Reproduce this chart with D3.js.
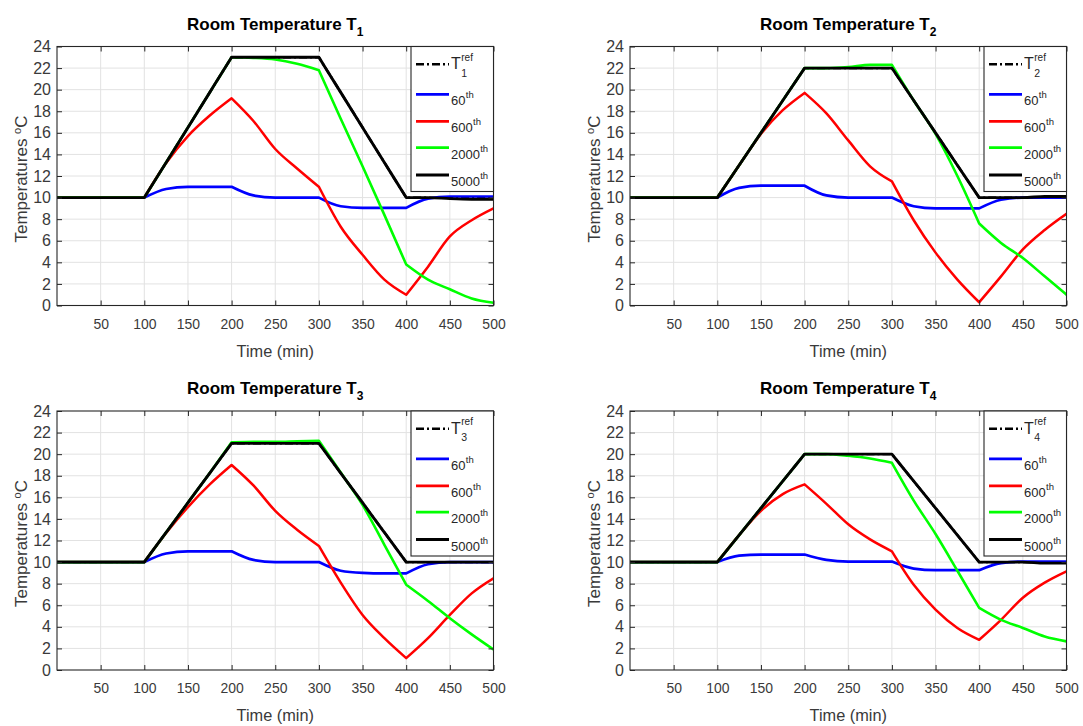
<!DOCTYPE html>
<html>
<head>
<meta charset="utf-8">
<script src="https://cdn.jsdelivr.net/npm/d3@7"></script>
<style>
  body { margin: 0; background: #ffffff; }
  svg text { font-family: "Liberation Sans", Arial, Helvetica, sans-serif; }
</style>
</head>
<body>
<svg id="chart" width="1083" height="726"></svg>
<script>
// ---- data -------------------------------------------------------------
const time = [0, 100, 125, 150, 175, 200, 225, 250, 275, 300, 325, 350, 375, 400, 425, 450, 475, 500];
// instants where the set-point profile changes slope
const breakTimes = [100, 200, 300, 400];

const xTickValues = [50, 100, 150, 200, 250, 300, 350, 400, 450, 500];
const yTickValues = [0, 2, 4, 6, 8, 10, 12, 14, 16, 18, 20, 22, 24];

const runLabels = ["60", "600", "2000", "5000"];
const roomIds = ["1", "2", "3", "4"];

// Room 1
const room1Ref     = [10, 10, 13.25, 16.5, 19.75, 23, 23, 23, 23, 23, 19.75, 16.5, 13.25, 10, 10, 10, 10, 10];
const room1Run60   = [10, 10, 10.8, 11, 11, 11, 10.2, 10, 10, 10, 9.2, 9.05, 9.05, 9.05, 9.9, 10.1, 10.1, 10.1];
const room1Run600  = [10, 10, 13.2, 15.7, 17.6, 19.2, 17.1, 14.5, 12.7, 11.0, 7.3, 4.7, 2.4, 1.0, 3.6, 6.4, 7.9, 9.0];
const room1Run2000 = [10, 10, 13.25, 16.5, 19.75, 23, 22.95, 22.8, 22.4, 21.8, 17.3, 12.9, 8.4, 3.8, 2.4, 1.5, 0.65, 0.25];
const room1Run5000 = [10, 10, 13.25, 16.5, 19.75, 23, 23, 23, 23, 23, 19.75, 16.5, 13.25, 10, 10, 9.9, 9.85, 9.85];

// Room 2
const room2Ref     = [10, 10, 13, 16, 19, 22, 22, 22, 22, 22, 19, 16, 13, 10, 10, 10, 10, 10];
const room2Run60   = [10, 10, 10.9, 11.1, 11.1, 11.1, 10.2, 10, 10, 10, 9.2, 9, 9, 9, 9.8, 10, 10, 10];
const room2Run600  = [10, 10, 13, 15.9, 18.1, 19.7, 17.8, 15.3, 12.9, 11.5, 7.9, 4.9, 2.4, 0.3, 2.7, 5.2, 7.0, 8.5];
const room2Run2000 = [10, 10, 13, 16, 19, 22, 22, 22.1, 22.3, 22.3, 19, 15.9, 12, 7.6, 5.8, 4.4, 2.7, 1.0];
const room2Run5000 = [10, 10, 13, 16, 19, 22, 22, 22, 22, 22, 19, 16, 13, 10, 10, 10, 10.1, 10.1];

// Room 3
const room3Ref     = [10, 10, 12.75, 15.5, 18.25, 21, 21, 21, 21, 21, 18.25, 15.5, 12.75, 10, 10, 10, 10, 10];
const room3Run60   = [10, 10, 10.8, 11, 11, 11, 10.2, 10, 10, 10, 9.2, 9, 8.95, 8.95, 9.8, 10, 10, 10];
const room3Run600  = [10, 10, 12.7, 15.1, 17.2, 19.0, 17.1, 14.75, 13.0, 11.5, 8.1, 5.1, 2.95, 1.1, 2.95, 5.1, 7.1, 8.5];
const room3Run2000 = [10, 10, 12.75, 15.5, 18.25, 21.1, 21.15, 21.15, 21.2, 21.25, 18.3, 15.3, 11.6, 7.9, 6.4, 4.8, 3.3, 1.9];
const room3Run5000 = [10, 10, 12.75, 15.5, 18.25, 21, 21, 21, 21, 21, 18.25, 15.5, 12.75, 10, 10, 10, 10, 10];

// Room 4
const room4Ref     = [10, 10, 12.5, 15, 17.5, 20, 20, 20, 20, 20, 17.5, 15, 12.5, 10, 10, 10, 10, 10];
const room4Run60   = [10, 10, 10.6, 10.7, 10.7, 10.7, 10.2, 10.05, 10.05, 10.05, 9.4, 9.25, 9.25, 9.25, 9.9, 10.05, 10.05, 10.05];
const room4Run600  = [10, 10, 12.5, 14.75, 16.3, 17.2, 15.4, 13.5, 12.1, 11.0, 7.9, 5.6, 3.9, 2.8, 4.65, 6.7, 8.1, 9.15];
const room4Run2000 = [10, 10, 12.5, 15, 17.5, 20, 20, 19.85, 19.6, 19.2, 15.7, 12.6, 9.2, 5.75, 4.65, 3.9, 3.1, 2.65];
const room4Run5000 = [10, 10, 12.5, 15, 17.5, 20, 20, 20, 20, 20, 17.5, 15, 12.5, 10, 10, 10, 9.9, 9.9];

// ---- layout & styles ----------------------------------------------------
const plotW = 436.5, plotH = 259;
const panels = [
  { room: roomIds[0], left: 57,  top: 46.5, ref: room1Ref, runs: [room1Run60, room1Run600, room1Run2000, room1Run5000] },
  { room: roomIds[1], left: 630, top: 46.5, ref: room2Ref, runs: [room2Run60, room2Run600, room2Run2000, room2Run5000] },
  { room: roomIds[2], left: 57,  top: 411,  ref: room3Ref, runs: [room3Run60, room3Run600, room3Run2000, room3Run5000] },
  { room: roomIds[3], left: 630, top: 411,  ref: room4Ref, runs: [room4Run60, room4Run600, room4Run2000, room4Run5000] }
];
const runColors = ["#0000ff", "#ff0000", "#00ff00", "#000000"];
const runWidths = [2.7, 2.5, 2.6, 2.9];
const axisColor = "#262626";
const tickTextColor = "#3a3a3a";
const legendTextColor = "#262626";
const gridColor = "#e2e2e2";

const svg = d3.select("#chart");

// squeeze glyphs horizontally to the narrow face used in the figure
function condense(sel, f) {
  sel.each(function () {
    const w = this.getComputedTextLength();
    d3.select(this).attr("textLength", w * f).attr("lengthAdjust", "spacingAndGlyphs");
  });
}

// smooth monotone curve within each interval, sharp corners at the break times
function piecewisePath(vals, x, y) {
  const pts = vals.map((v, i) => [time[i], v]);
  const bounds = [0, ...breakTimes, 500];
  const gen = d3.line().x(d => x(d[0])).y(d => y(d[1])).curve(d3.curveMonotoneX);
  let d = "";
  for (let k = 0; k < bounds.length - 1; k++) {
    const seg = pts.filter(pt => pt[0] >= bounds[k] && pt[0] <= bounds[k + 1]);
    if (seg.length < 2) continue;
    const s = gen(seg);
    d += (d === "" ? s : "L" + s.slice(1));
  }
  return d;
}

panels.forEach((p, pi) => {
  const x = d3.scaleLinear().domain([0, 500]).range([p.left, p.left + plotW]);
  const y = d3.scaleLinear().domain([0, 24]).range([p.top + plotH, p.top]);
  const g = svg.append("g");

  // plot background
  g.append("rect")
    .attr("x", x(0)).attr("y", y(24))
    .attr("width", x(500) - x(0)).attr("height", y(0) - y(24))
    .attr("fill", "#ffffff");

  // grid
  g.append("g").selectAll("line")
    .data(xTickValues.filter(v => v < 500))
    .join("line")
    .attr("x1", d => x(d)).attr("x2", d => x(d))
    .attr("y1", y(0)).attr("y2", y(24))
    .attr("stroke", gridColor).attr("stroke-width", 1);
  g.append("g").selectAll("line")
    .data(yTickValues.filter(v => v > 0 && v < 24))
    .join("line")
    .attr("x1", x(0)).attr("x2", x(500))
    .attr("y1", d => y(d)).attr("y2", d => y(d))
    .attr("stroke", gridColor).attr("stroke-width", 1);

  // clip region for the curves
  const clipId = "clip" + pi;
  svg.append("clipPath").attr("id", clipId)
    .append("rect")
    .attr("x", x(0)).attr("y", y(24) - 2)
    .attr("width", x(500) - x(0)).attr("height", y(0) - y(24) + 4);

  const curves = g.append("g").attr("clip-path", `url(#${clipId})`);

  // reference trajectory (dash-dot)
  curves.append("path")
    .attr("d", piecewisePath(p.ref, x, y))
    .attr("fill", "none")
    .attr("stroke", "#000000")
    .attr("stroke-width", 2.4)
    .attr("stroke-dasharray", "8,3,2,3");

  // simulated runs
  p.runs.forEach((vals, k) => {
    curves.append("path")
      .attr("d", piecewisePath(vals, x, y))
      .attr("fill", "none")
      .attr("stroke", runColors[k])
      .attr("stroke-width", runWidths[k])
      .attr("stroke-linejoin", "round")
      .attr("stroke-linecap", "round");
  });

  // axes with inward ticks
  const xAxis = g.append("g")
    .attr("transform", `translate(0,${y(0)})`)
    .call(d3.axisBottom(x).tickValues(xTickValues).tickSize(-5).tickSizeOuter(0).tickPadding(12.5));
  const yAxis = g.append("g")
    .attr("transform", `translate(${x(0)},0)`)
    .call(d3.axisLeft(y).tickValues(yTickValues).tickSize(-5).tickSizeOuter(0).tickPadding(6));
  g.append("g")
    .attr("transform", `translate(0,${y(24)})`)
    .call(d3.axisTop(x).tickValues(xTickValues).tickSize(-5).tickSizeOuter(0).tickFormat(""));
  g.append("g")
    .attr("transform", `translate(${x(500)},0)`)
    .call(d3.axisRight(y).tickValues(yTickValues).tickSize(-5).tickSizeOuter(0).tickFormat(""));

  g.selectAll(".domain").remove();
  g.selectAll(".tick line").attr("stroke", axisColor).attr("stroke-width", 1);

  xAxis.selectAll("text")
    .attr("fill", tickTextColor)
    .style("font-size", "15px")
    .call(condense, 0.93);
  yAxis.selectAll("text")
    .attr("fill", tickTextColor)
    .style("font-size", "16px");

  // axes box
  g.append("rect")
    .attr("x", x(0)).attr("y", y(24))
    .attr("width", x(500) - x(0)).attr("height", y(0) - y(24))
    .attr("fill", "none").attr("stroke", axisColor).attr("stroke-width", 1.1);

  // title
  const cx = (x(0) + x(500)) / 2;
  const title = g.append("text")
    .attr("x", cx).attr("y", p.top - 17)
    .attr("text-anchor", "middle")
    .attr("fill", "#000000")
    .style("font-size", "17px").style("font-weight", "bold");
  title.append("tspan").text("Room Temperature T");
  title.append("tspan").attr("dy", 6).style("font-size", "12px").text(p.room);

  // axis labels
  g.append("text")
    .attr("x", cx).attr("y", y(0) + 51)
    .attr("text-anchor", "middle")
    .attr("fill", tickTextColor)
    .style("font-size", "17px")
    .text("Time (min)")
    .call(condense, 0.96);

  const yl = g.append("text")
    .attr("transform", `translate(${x(0) - 30},${(y(0) + y(24)) / 2 + 3}) rotate(-90)`)
    .attr("text-anchor", "middle")
    .attr("fill", tickTextColor)
    .style("font-size", "17px");
  yl.append("tspan").text("Temperatures ");
  yl.append("tspan").attr("dy", -6).style("font-size", "11px").text("o");
  yl.append("tspan").attr("dy", 6).text("C");

  // legend
  const lgW = 82.5, lgH = 145;
  const lgX = x(500) - lgW, lgY = y(24);
  const lg = g.append("g");
  lg.append("rect")
    .attr("x", lgX).attr("y", lgY)
    .attr("width", lgW).attr("height", lgH)
    .attr("fill", "#ffffff").attr("stroke", axisColor).attr("stroke-width", 1.1);

  const rowOffsets = [17.8, 47.8, 74.8, 101.2, 128.5];
  const sampleX0 = lgX + 5, sampleX1 = lgX + 38, textX = lgX + 40;

  // reference entry: T with stacked sub/superscript
  const r0 = lgY + rowOffsets[0];
  lg.append("line")
    .attr("x1", sampleX0).attr("x2", sampleX1).attr("y1", r0).attr("y2", r0)
    .attr("stroke", "#000000").attr("stroke-width", 2.6)
    .attr("stroke-dasharray", "8,3,2,3");
  const tT = lg.append("text")
    .attr("x", textX).attr("y", r0 + 5)
    .attr("fill", legendTextColor)
    .style("font-size", "16px").text("T");
  const tw = tT.node().getComputedTextLength();
  lg.append("text")
    .attr("x", textX + tw + 0.5).attr("y", r0 - 3.5)
    .attr("fill", legendTextColor)
    .style("font-size", "10px").text("ref");
  lg.append("text")
    .attr("x", textX + tw + 0.5).attr("y", r0 + 12.5)
    .attr("fill", legendTextColor)
    .style("font-size", "10.5px").text(p.room);

  // run entries: number with "th" superscript
  runLabels.forEach((lab, k) => {
    const ry = lgY + rowOffsets[k + 1];
    lg.append("line")
      .attr("x1", sampleX0).attr("x2", sampleX1).attr("y1", ry).attr("y2", ry)
      .attr("stroke", runColors[k]).attr("stroke-width", 2.8);
    const num = lg.append("text")
      .attr("x", textX).attr("y", ry + 11)
      .attr("fill", legendTextColor)
      .style("font-size", "13px")
      .text(lab);
    const nw = num.node().getComputedTextLength();
    lg.append("text")
      .attr("x", textX + nw + 0.3).attr("y", ry + 4)
      .attr("fill", legendTextColor)
      .style("font-size", "9.5px")
      .text("th");
  });
});
</script>
</body>
</html>
